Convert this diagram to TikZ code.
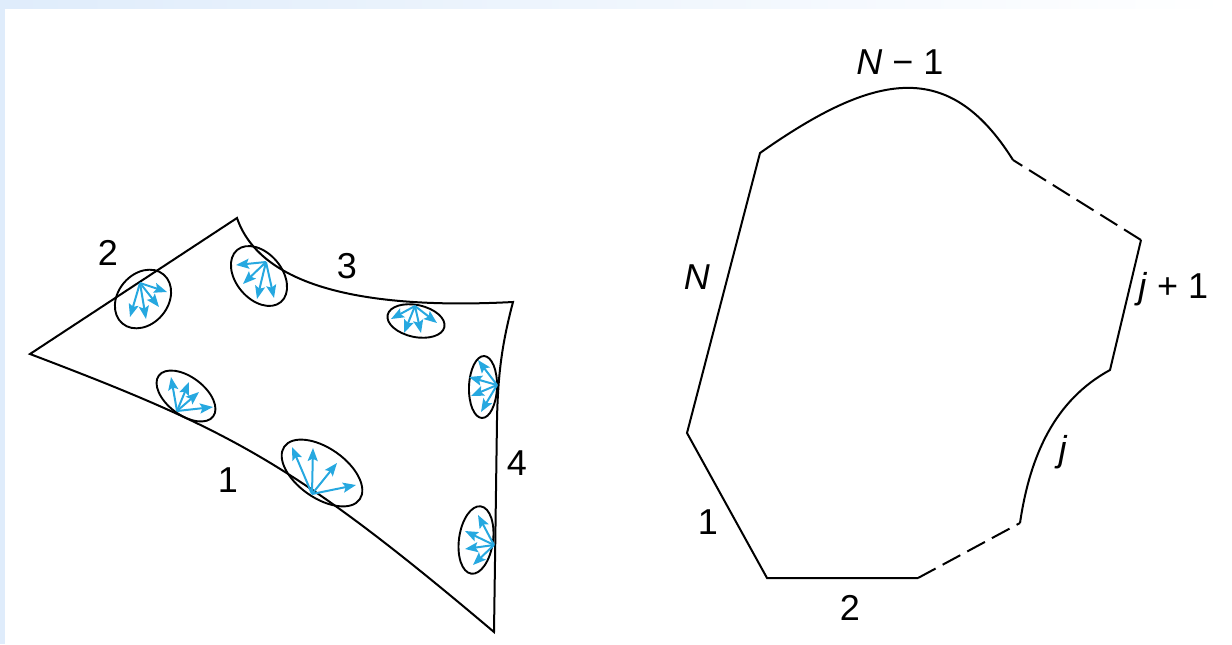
\documentclass[tikz,border=0pt]{standalone}
\usepackage{fontspec}
\setmainfont{Liberation Sans}
\usetikzlibrary{arrows.meta}
\definecolor{raycol}{RGB}{38,168,224}
\definecolor{edgeblue}{RGB}{223,236,251}
\newcommand{\rayfan}[2]{\foreach \tp in {#2} \draw[ray] (#1) -- \tp;}

\begin{document}
\begin{tikzpicture}[
    x=0.5pt, y=-0.5pt,
    font=\fontsize{18}{21}\selectfont,
    wall/.style={line width=1pt},
    gap/.style={wall, dash pattern=on 10pt off 4pt},
    patch/.style={line width=0.95pt},
    ray/.style={raycol, line width=1pt, -{Stealth[length=6.5pt,width=5pt,inset=1.2pt]}},
    lbl/.style={inner sep=1pt},
  ]
  \useasboundingbox (0,0) rectangle (1232,644);
  \shade[left color=edgeblue, right color=white] (0,0) rectangle (1232,8);
  \fill[edgeblue] (0,0) rectangle (5,644);

  % enclosure with four surfaces
  \coordinate (p1) at (30,354);
  \coordinate (p2) at (237,218);
  \coordinate (p3) at (513,302);
  \coordinate (p4) at (494,632);
  \draw[wall] (p1) -- (p2) .. controls (260,285) and (360,310) .. (p3)
    .. controls (503,340) and (498,370) .. (497,420) -- (p4)
    .. controls (293,462) and (230,430) .. cycle;

  % emitting patches
  \draw[patch, rotate around={50:(143,299)}] (143,299) ellipse [x radius=32, y radius=25];
  \draw[patch, rotate around={-50:(259,276)}] (259,276) ellipse [x radius=34, y radius=23];
  \draw[patch, rotate around={-12:(416,321)}] (416,321) ellipse [x radius=29, y radius=16];
  \draw[patch, rotate around={-37:(186,396)}] (186,396) ellipse [x radius=34, y radius=19];
  \draw[patch, rotate around={-35:(322,473)}] (322,473) ellipse [x radius=46, y radius=25];
  \draw[patch, rotate around={88:(483,387)}] (483,387) ellipse [x radius=31, y radius=14];
  \draw[patch, rotate around={82:(476,540)}] (476,540) ellipse [x radius=34, y radius=17];

  \coordinate (s1) at (140,283);
  \coordinate (s2) at (266,262);
  \coordinate (s3) at (415,306);
  \coordinate (s4) at (177,411);
  \coordinate (s5) at (312,494);
  \coordinate (s6) at (497,385);
  \coordinate (s7) at (494,545);
  \rayfan{s1}{(130,317),(146,319),(159,307),(167,292)}
  \rayfan{s2}{(236,265),(243,284),(257,299),(274,298)}
  \rayfan{s3}{(391,319),(404,333),(421,333),(437,323)}
  \rayfan{s4}{(171,377),(189,382),(199,392),(213,407)}
  \rayfan{s5}{(292,447),(313,448),(337,463),(356,485)}
  \rayfan{s6}{(478,360),(469,377),(471,396),(481,412)}
  \rayfan{s7}{(478,515),(465,531),(465,549),(473,565)}

  \node[lbl] (l2) at (108,253) {2};
  \node[lbl] (l3) at (347,266) {3};
  \node[lbl] (l1) at (228,480) {1};
  \node[lbl] (l4) at (517,463) {4};

  % N-surface enclosure
  \coordinate (q1) at (687,433);
  \coordinate (q2) at (767,578);
  \coordinate (q3) at (918,578);
  \coordinate (q4) at (1020,523);
  \coordinate (q5) at (1110,370);
  \coordinate (q6) at (1141,240);
  \coordinate (q7) at (1013,160);
  \coordinate (q8) at (760,153);
  \draw[wall] (q4) .. controls (1030,455) and (1055,400) .. (q5) -- (q6);
  \draw[gap] (q6) -- (q7);
  \draw[wall] (q7) .. controls (949,58) and (875,72) .. (q8) -- (q1) -- (q2) -- (q3);
  \draw[gap] (q3) -- (q4);

  \node[lbl] (rN1) at (900,62) {\textit{N} − 1};
  \node[lbl] (rN) at (697,277) {\textit{N}};
  \node[lbl, anchor=west] (rj1) at (1136,289) {\textit{j} + 1};
  \node[lbl] (rj) at (1063,452) {\textit{j}};
  \node[lbl] (r1) at (708,522) {1};
  \node[lbl] (r2) at (850,608) {2};
\end{tikzpicture}
\end{document}
